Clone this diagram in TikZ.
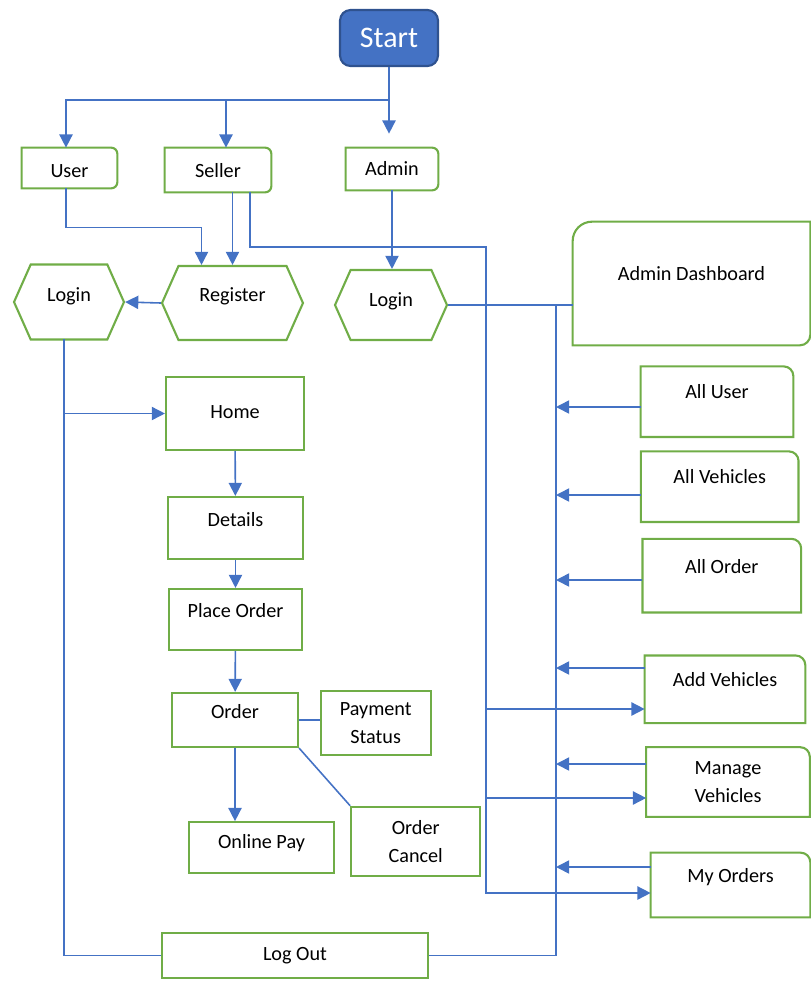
\documentclass[tikz,border=0pt]{standalone}
\usepackage{fontspec}
\setmainfont{Carlito}
\usepackage{xcolor}
\usepackage{tikz}
\usetikzlibrary{positioning,arrows.meta,shapes.symbols}

\definecolor{officeblue}{HTML}{4472C4}
\definecolor{darkblue}{HTML}{2F528F}
\definecolor{officegreen}{HTML}{70AD47}

\tikzset{
  frm/.style={draw=officegreen, line width=1.2pt},
  txt/.style={font=\fontsize{11.5}{15.8}\selectfont, inner sep=0pt},
  wh/.style 2 args={minimum width=#1, minimum height=#2},
  lift/.style={text height=8pt, text depth=#1},
  drop/.style={text height=#1, text depth=2.5pt},
  two/.style={align=center},
  sq/.style={txt, frm, rectangle},
  rbox/.style={txt, rectangle},
  hexa/.style={txt, frm, signal, signal to=east and west, signal pointer angle=132},
  startbox/.style={rectangle, rounded corners=6pt, draw=darkblue, fill=officeblue, line width=1.2pt,
    text=white, font=\fontsize{17}{20}\selectfont, minimum width=1.96cm, minimum height=1.12cm},
  link/.style={draw=officeblue, line width=0.9pt},
  linkarrow/.style={link, -{Triangle[length=7.5pt,width=7.5pt]}},
}

% frames with only some corners rounded
\newcommand{\frameRight}[2][3.5pt]{%
  \draw[frm] (#2.south west) -- (#2.north west) -- ([xshift=-#1]#2.north east)
    arc[start angle=90, end angle=0, radius=#1] -- ([yshift=#1]#2.south east)
    arc[start angle=0, end angle=-90, radius=#1] -- cycle;}
\newcommand{\frameTopRight}[2][5.5pt]{%
  \draw[frm] (#2.south west) -- (#2.north west) -- ([xshift=-#1]#2.north east)
    arc[start angle=90, end angle=0, radius=#1] -- (#2.south east) -- cycle;}
\newcommand{\frameDiag}[1]{%
  \draw[frm] (#1.south west) -- ([yshift=-11pt]#1.north west)
    arc[start angle=180, end angle=90, radius=11pt] -- (#1.north east) -- ([yshift=6pt]#1.south east)
    arc[start angle=0, end angle=-90, radius=6pt] -- cycle;}

\begin{document}
\begin{tikzpicture}[x=0.02cm, y=0.02cm]
\useasboundingbox (0,0) rectangle (811,-981);

% top row
\node[startbox] (start) at (389,-38) {Start};
\node[rbox, wh={1.9cm}{0.8cm}, drop=13pt] (user) at (69.5,-168) {User};
\node[rbox, wh={2.12cm}{0.88cm}, drop=10.6pt] (seller) at (218,-170) {Seller};
\node[rbox, wh={1.84cm}{0.84cm}, drop=10pt] (admin) at (392,-169) {Admin};

\node[hexa, wh={2.2cm}{1.5cm}, lift=8.5pt] (loginU) at (69,-302) {Login};
\node[hexa, wh={2.82cm}{1.48cm}, lift=9.6pt] (register) at (232.5,-303) {Register};
\node[hexa, wh={2.24cm}{1.4cm}, lift=6.2pt] (loginA) at (391,-305) {Login};
\node[rbox, wh={4.74cm}{2.46cm}, lift=11pt] (dash) at (691.5,-283.5) {Admin Dashboard};

% user side
\node[sq, wh={2.76cm}{1.46cm}, lift=2.5pt] (home) at (235,-413.5) {Home};
\node[sq, wh={2.7cm}{1.24cm}, lift=9.6pt] (details) at (235.5,-528) {Details};
\node[sq, wh={2.66cm}{1.22cm}, lift=10pt] (place) at (235.5,-619.5) {Place Order};
\node[sq, wh={2.52cm}{1.08cm}, lift=9.3pt] (order) at (235,-720) {Order};
\node[sq, two, wh={2.2cm}{1.28cm}] (paystatus) at (375.7,-723) {Payment\\Status};
\node[sq, wh={2.9cm}{1.02cm}, lift=6.7pt] (onlinepay) at (261.5,-847.7) {Online Pay};
\node[sq, two, wh={2.58cm}{1.38cm}] (cancel) at (415.7,-841.3) {Order\\Cancel};
\node[sq, wh={5.32cm}{0.9cm}, lift=2.5pt] (logout) at (295,-955.5) {Log Out};

% admin side
\node[rbox, wh={3.04cm}{1.4cm}, lift=12pt] (alluser) at (717,-401.7) {All User};
\node[rbox, wh={3.14cm}{1.4cm}, lift=12pt] (allveh) at (719.7,-486.7) {All Vehicles};
\node[rbox, wh={3.16cm}{1.46cm}, lift=11pt] (allorder) at (721.8,-575.7) {All Order};
\node[rbox, wh={3.2cm}{1.34cm}, lift=11pt] (addveh) at (725,-689.3) {Add Vehicles};
\node[rbox, two, wh={3.26cm}{1.38cm}] (manage) at (728,-782) {Manage\\Vehicles};
\node[rbox, wh={3.18cm}{1.28cm}, lift=11pt] (myorders) at (730.5,-885) {My Orders};

\frameRight{user}
\frameRight{seller}
\frameRight{admin}
\frameDiag{dash}
\foreach \n in {alluser,allveh,allorder,addveh,manage,myorders} {\frameTopRight{\n}}

% bus points
\coordinate (split) at (389,-100);
\coordinate (ubus) at (64,-339);
\coordinate (sbus) at (486,-247);
\coordinate (sAD) at (486,-709);
\coordinate (sMV) at (486,-798);
\coordinate (sMO) at (486,-893);
\coordinate (abus) at (556,-305);
\coordinate (aAU) at (556,-407);
\coordinate (aAV) at (556,-495);
\coordinate (aAO) at (556,-580);
\coordinate (aAD) at (556,-668);
\coordinate (aMV) at (556,-764);
\coordinate (aMO) at (556,-867);

% start to roles
\draw[link] (start) -- (split);
\draw[linkarrow] (split) -| ([xshift=-0.07cm]user.north);
\draw[linkarrow] (split) -| ([xshift=0.16cm]seller.north);
\draw[linkarrow, shorten >=0.28cm] (split) -- (split |- admin.north);

% roles to login / register
\draw[linkarrow] ([xshift=-0.07cm]user.south) -- ++(0,-39) -| ([xshift=-0.62cm]register.north);
\draw[linkarrow] (register.north |- seller.south) -- (register.north);
\draw[linkarrow] (register.west) -- (loginU.east);
\draw[linkarrow] (admin.south) -- (admin.south |- loginA.north);

% seller links
\draw[linkarrow] ([xshift=0.64cm]seller.south) |- (sbus) -- (sMO) -- (sMO -| myorders.west);
\draw[linkarrow] (sAD) -- (sAD -| addveh.west);
\draw[linkarrow] (sMV) -- (sMV -| manage.west);

% admin links
\draw[link] (loginA.east) -- (loginA.east -| dash.west);
\draw[link] (abus) |- (logout.east);
\foreach \t/\b in {aAU/alluser, aAV/allveh, aAO/allorder, aAD/addveh, aMV/manage, aMO/myorders}
  \draw[linkarrow] (\t -| \b.west) -- (\t);

% user flow
\draw[link] (ubus) |- (logout.west);
\draw[linkarrow] (ubus |- home.west) -- (home.west);
\draw[linkarrow] (home) -- (details);
\draw[linkarrow] (details) -- (place);
\draw[linkarrow] (place) -- (order);
\draw[linkarrow] (order.south) -- (order.south |- onlinepay.north);
\draw[link] (order.east) -- (order.east -| paystatus.west);
\draw[link] (order.south east) -- (cancel.north west);

\end{tikzpicture}
\end{document}
